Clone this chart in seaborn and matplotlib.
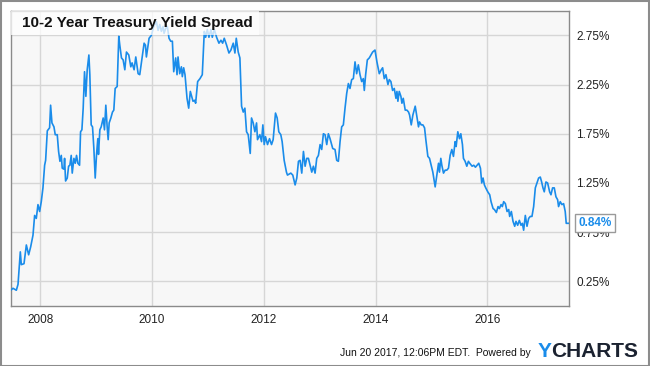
import matplotlib
matplotlib.use("Agg")
import matplotlib.pyplot as plt
from matplotlib.patches import Rectangle
from matplotlib.ticker import FuncFormatter
import seaborn as sns
import pandas as pd

# --- data (decimal year, spread in %) ---
years = [
    2007.471, 2007.512, 2007.572, 2007.602, 2007.643, 2007.661, 2007.709, 2007.751, 2007.792, 2007.828,
    2007.870, 2007.899, 2007.929, 2007.959, 2007.989, 2008.018, 2008.048, 2008.078, 2008.096, 2008.126,
    2008.167, 2008.185, 2008.209, 2008.245, 2008.268, 2008.304, 2008.328, 2008.352, 2008.376, 2008.393,
    2008.423, 2008.435, 2008.453, 2008.483, 2008.507, 2008.530, 2008.554, 2008.572, 2008.602, 2008.626,
    2008.649, 2008.673, 2008.703, 2008.721, 2008.745, 2008.768, 2008.792, 2008.816, 2008.840, 2008.870,
    2008.887, 2008.911, 2008.935, 2008.959, 2008.983, 2009.007, 2009.030, 2009.042, 2009.066, 2009.090,
    2009.126, 2009.149, 2009.173, 2009.197, 2009.215, 2009.233, 2009.263, 2009.292, 2009.316, 2009.340,
    2009.376, 2009.405, 2009.423, 2009.453, 2009.483, 2009.513, 2009.542, 2009.584, 2009.620, 2009.643,
    2009.679, 2009.709, 2009.751, 2009.780, 2009.810, 2009.858, 2009.882, 2009.899, 2009.947, 2009.989,
    2010.030, 2010.078, 2010.108, 2010.138, 2010.167, 2010.197, 2010.215, 2010.245, 2010.274, 2010.304,
    2010.334, 2010.364, 2010.388, 2010.423, 2010.447, 2010.465, 2010.495, 2010.525, 2010.542, 2010.566,
    2010.590, 2010.626, 2010.656, 2010.685, 2010.733, 2010.763, 2010.780, 2010.816, 2010.858, 2010.899,
    2010.935, 2010.959, 2010.989, 2011.018, 2011.054, 2011.078, 2011.114, 2011.155, 2011.197, 2011.233,
    2011.263, 2011.292, 2011.334, 2011.376, 2011.411, 2011.453, 2011.483, 2011.507, 2011.542, 2011.572,
    2011.602, 2011.632, 2011.661, 2011.691, 2011.721, 2011.757, 2011.780, 2011.810, 2011.840, 2011.870,
    2011.887, 2011.929, 2011.959, 2011.983, 2012.007, 2012.030, 2012.066, 2012.102, 2012.138, 2012.167,
    2012.209, 2012.239, 2012.268, 2012.304, 2012.328, 2012.364, 2012.405, 2012.423, 2012.483, 2012.518,
    2012.560, 2012.590, 2012.620, 2012.649, 2012.679, 2012.709, 2012.739, 2012.768, 2012.798, 2012.828,
    2012.858, 2012.887, 2012.917, 2012.947, 2012.977, 2013.007, 2013.036, 2013.066, 2013.096, 2013.126,
    2013.155, 2013.185, 2013.233, 2013.274, 2013.304, 2013.334, 2013.364, 2013.393, 2013.423, 2013.453,
    2013.483, 2013.513, 2013.542, 2013.572, 2013.602, 2013.632, 2013.661, 2013.691, 2013.721, 2013.751,
    2013.780, 2013.798, 2013.822, 2013.852, 2013.887, 2013.917, 2013.947, 2013.989, 2014.024, 2014.066,
    2014.102, 2014.126, 2014.155, 2014.185, 2014.221, 2014.245, 2014.274, 2014.304, 2014.334, 2014.364,
    2014.382, 2014.399, 2014.423, 2014.453, 2014.471, 2014.495, 2014.530, 2014.560, 2014.590, 2014.608,
    2014.638, 2014.667, 2014.709, 2014.739, 2014.768, 2014.786, 2014.816, 2014.846, 2014.876, 2014.899,
    2014.935, 2014.965, 2014.995, 2015.024, 2015.066, 2015.096, 2015.126, 2015.143, 2015.167, 2015.185,
    2015.215, 2015.245, 2015.274, 2015.304, 2015.334, 2015.364, 2015.393, 2015.423, 2015.441, 2015.471,
    2015.501, 2015.525, 2015.554, 2015.572, 2015.602, 2015.632, 2015.661, 2015.685, 2015.727, 2015.757,
    2015.786, 2015.816, 2015.846, 2015.876, 2015.899, 2015.923, 2015.947, 2015.971, 2016.007, 2016.042,
    2016.066, 2016.102, 2016.126, 2016.161, 2016.191, 2016.215, 2016.245, 2016.268, 2016.292, 2016.322,
    2016.352, 2016.382, 2016.399, 2016.429, 2016.459, 2016.489, 2016.512, 2016.542, 2016.572, 2016.602,
    2016.626, 2016.649, 2016.679, 2016.709, 2016.739, 2016.768, 2016.798, 2016.828, 2016.858, 2016.887,
    2016.917, 2016.947, 2016.971, 2016.995, 2017.018, 2017.048, 2017.078, 2017.114, 2017.138, 2017.167,
    2017.197, 2017.227, 2017.257, 2017.274, 2017.304, 2017.334, 2017.364, 2017.393, 2017.411, 2017.466,
]
spread = [
    0.16, 0.18, 0.16, 0.22, 0.55, 0.42, 0.43, 0.62, 0.52, 0.60,
    0.72, 0.92, 0.89, 1.03, 0.96, 1.06, 1.20, 1.43, 1.48, 1.78,
    1.81, 2.04, 1.86, 1.82, 1.74, 1.74, 1.57, 1.47, 1.53, 1.40,
    1.39, 1.50, 1.27, 1.30, 1.42, 1.43, 1.53, 1.35, 1.50, 1.45,
    1.53, 1.45, 1.43, 1.77, 1.79, 2.01, 2.38, 2.13, 2.40, 2.55,
    2.35, 1.84, 1.82, 1.60, 1.30, 1.54, 1.70, 1.54, 1.79, 1.82,
    1.91, 1.79, 2.04, 1.82, 1.69, 1.86, 1.91, 1.97, 1.99, 2.21,
    2.23, 2.74, 2.65, 2.52, 2.50, 2.40, 2.58, 2.55, 2.43, 2.47,
    2.40, 2.53, 2.36, 2.35, 2.47, 2.67, 2.65, 2.53, 2.72, 2.75,
    2.84, 2.89, 2.80, 2.86, 2.79, 2.84, 2.77, 2.82, 2.84, 2.72,
    2.69, 2.69, 2.38, 2.52, 2.35, 2.53, 2.36, 2.43, 2.33, 2.42,
    2.35, 2.11, 2.01, 2.18, 2.08, 2.09, 2.06, 2.28, 2.31, 2.35,
    2.79, 2.73, 2.81, 2.73, 2.81, 2.73, 2.81, 2.73, 2.67, 2.70,
    2.67, 2.72, 2.65, 2.57, 2.60, 2.67, 2.57, 2.72, 2.58, 2.52,
    2.03, 1.97, 2.01, 1.77, 1.74, 1.55, 1.91, 1.86, 1.77, 1.86,
    1.69, 1.74, 1.67, 1.84, 1.64, 1.72, 1.64, 1.70, 1.64, 1.69,
    1.96, 1.91, 1.77, 1.74, 1.67, 1.48, 1.36, 1.33, 1.35, 1.33,
    1.23, 1.30, 1.47, 1.48, 1.35, 1.57, 1.42, 1.50, 1.50, 1.43,
    1.36, 1.42, 1.35, 1.50, 1.53, 1.64, 1.59, 1.75, 1.74, 1.64,
    1.75, 1.70, 1.60, 1.59, 1.48, 1.47, 1.67, 1.82, 1.84, 2.01,
    2.16, 2.26, 2.21, 2.30, 2.31, 2.48, 2.36, 2.45, 2.35, 2.28,
    2.31, 2.19, 2.35, 2.50, 2.52, 2.55, 2.58, 2.60, 2.48, 2.36,
    2.40, 2.42, 2.31, 2.35, 2.25, 2.30, 2.28, 2.19, 2.21, 2.11,
    2.18, 2.08, 2.18, 2.13, 2.06, 2.11, 1.99, 1.99, 1.97, 1.94,
    1.84, 1.94, 2.03, 1.92, 1.82, 1.87, 1.84, 1.84, 1.81, 1.69,
    1.52, 1.50, 1.43, 1.36, 1.21, 1.33, 1.45, 1.36, 1.50, 1.43,
    1.35, 1.38, 1.38, 1.40, 1.53, 1.59, 1.52, 1.67, 1.62, 1.77,
    1.70, 1.75, 1.64, 1.50, 1.47, 1.42, 1.47, 1.45, 1.42, 1.43,
    1.41, 1.43, 1.45, 1.40, 1.25, 1.30, 1.23, 1.20, 1.16, 1.13,
    1.06, 0.99, 0.98, 0.95, 1.01, 0.99, 1.03, 1.01, 1.06, 1.04,
    0.96, 0.98, 0.91, 0.96, 0.86, 0.81, 0.86, 0.82, 0.87, 0.82,
    0.84, 0.77, 0.92, 0.81, 0.89, 0.91, 0.91, 1.01, 1.20, 1.25,
    1.30, 1.31, 1.26, 1.20, 1.16, 1.26, 1.25, 1.16, 1.13, 1.20,
    1.20, 1.11, 1.08, 1.01, 1.06, 1.03, 1.04, 0.96, 0.84, 0.84,
]
year_ticks = [2008, 2010, 2012, 2014, 2016]
pct_ticks = [0.25, 0.75, 1.25, 1.75, 2.25, 2.75]

title = "10-2 Year Treasury Yield Spread"
stamp = "Jun 20 2017, 12:06PM EDT.  Powered by"

LINE = "#1a8cea"
W, H = 650, 366

df = pd.DataFrame({"year": years, "spread": spread})

sns.set_style("white")
plt.rcParams["font.family"] = ["Liberation Sans", "DejaVu Sans"]

fig = plt.figure(figsize=(W / 100, H / 100), dpi=100)
ax = fig.add_axes([10.7 / W, 1 - 306 / H, (569.3 - 10.7) / W, (306 - 10.7) / H])
ax.set_facecolor("#f7f7f7")

sns.lineplot(data=df, x="year", y="spread", ax=ax, color=LINE, linewidth=1.2, zorder=3)

ax.set_xlim(years[0], years[-1])
ax.set_ylim(0.0, 3.0)
ax.set_xticks(year_ticks)
ax.set_yticks(pct_ticks)
ax.yaxis.tick_right()
ax.yaxis.set_major_formatter(FuncFormatter(lambda v, p: f"{v:.2f}%"))
ax.tick_params(axis="both", length=0, labelsize=8.5, colors="#222222")
ax.tick_params(axis="y", pad=5)
ax.tick_params(axis="x", pad=6)
ax.set_xlabel("")
ax.set_ylabel("")
ax.grid(True, color="#d6d6d6", linewidth=1.0)
ax.set_axisbelow(True)
for s in ax.spines.values():
    s.set_color("#8a8a8a")
    s.set_linewidth(1.0)

# title box on top of the plot area
fig.patches.append(Rectangle((10.7 / W, 1 - 35 / H), (259 - 10.7) / W, (35 - 10.7) / H,
                             transform=fig.transFigure, facecolor="white", alpha=0.75,
                             edgecolor="none", zorder=5))
fig.text(21.5 / W, 1 - 23.5 / H, title, fontsize=11, fontweight="bold",
         color="#111111", va="center", ha="left", zorder=6)

# last value callout (sits over the 0.75% label, as in the original)
ax.annotate(f"{spread[-1]:.2f}%", xy=(years[-1], spread[-1]), xytext=(9, 0),
            textcoords="offset pixels", ha="left", va="center", fontsize=8.5,
            fontweight="bold", color=LINE, annotation_clip=False, zorder=7,
            bbox=dict(boxstyle="square,pad=0.25", facecolor="white", edgecolor="#9a9a9a", linewidth=1))

# footer
fig.text(531 / W, 1 - 356.5 / H, stamp, fontsize=7.5, color="#111111", ha="right", va="baseline")
fig.text(538 / W, 1 - 357 / H, "Y", fontsize=15, fontweight="bold", color=LINE, ha="left", va="baseline")
fig.text(551.5 / W, 1 - 357 / H, "CHARTS", fontsize=15, fontweight="bold", color="#1b2230",
         ha="left", va="baseline")

# outer frame
fig.patches.append(Rectangle((0.5 / W, 0.5 / H), (W - 1.5) / W, (H - 1.5) / H, transform=fig.transFigure,
                             facecolor="none", edgecolor="#8c8c8c", linewidth=1.5, zorder=10))

fig.savefig("out.png", dpi=100)
